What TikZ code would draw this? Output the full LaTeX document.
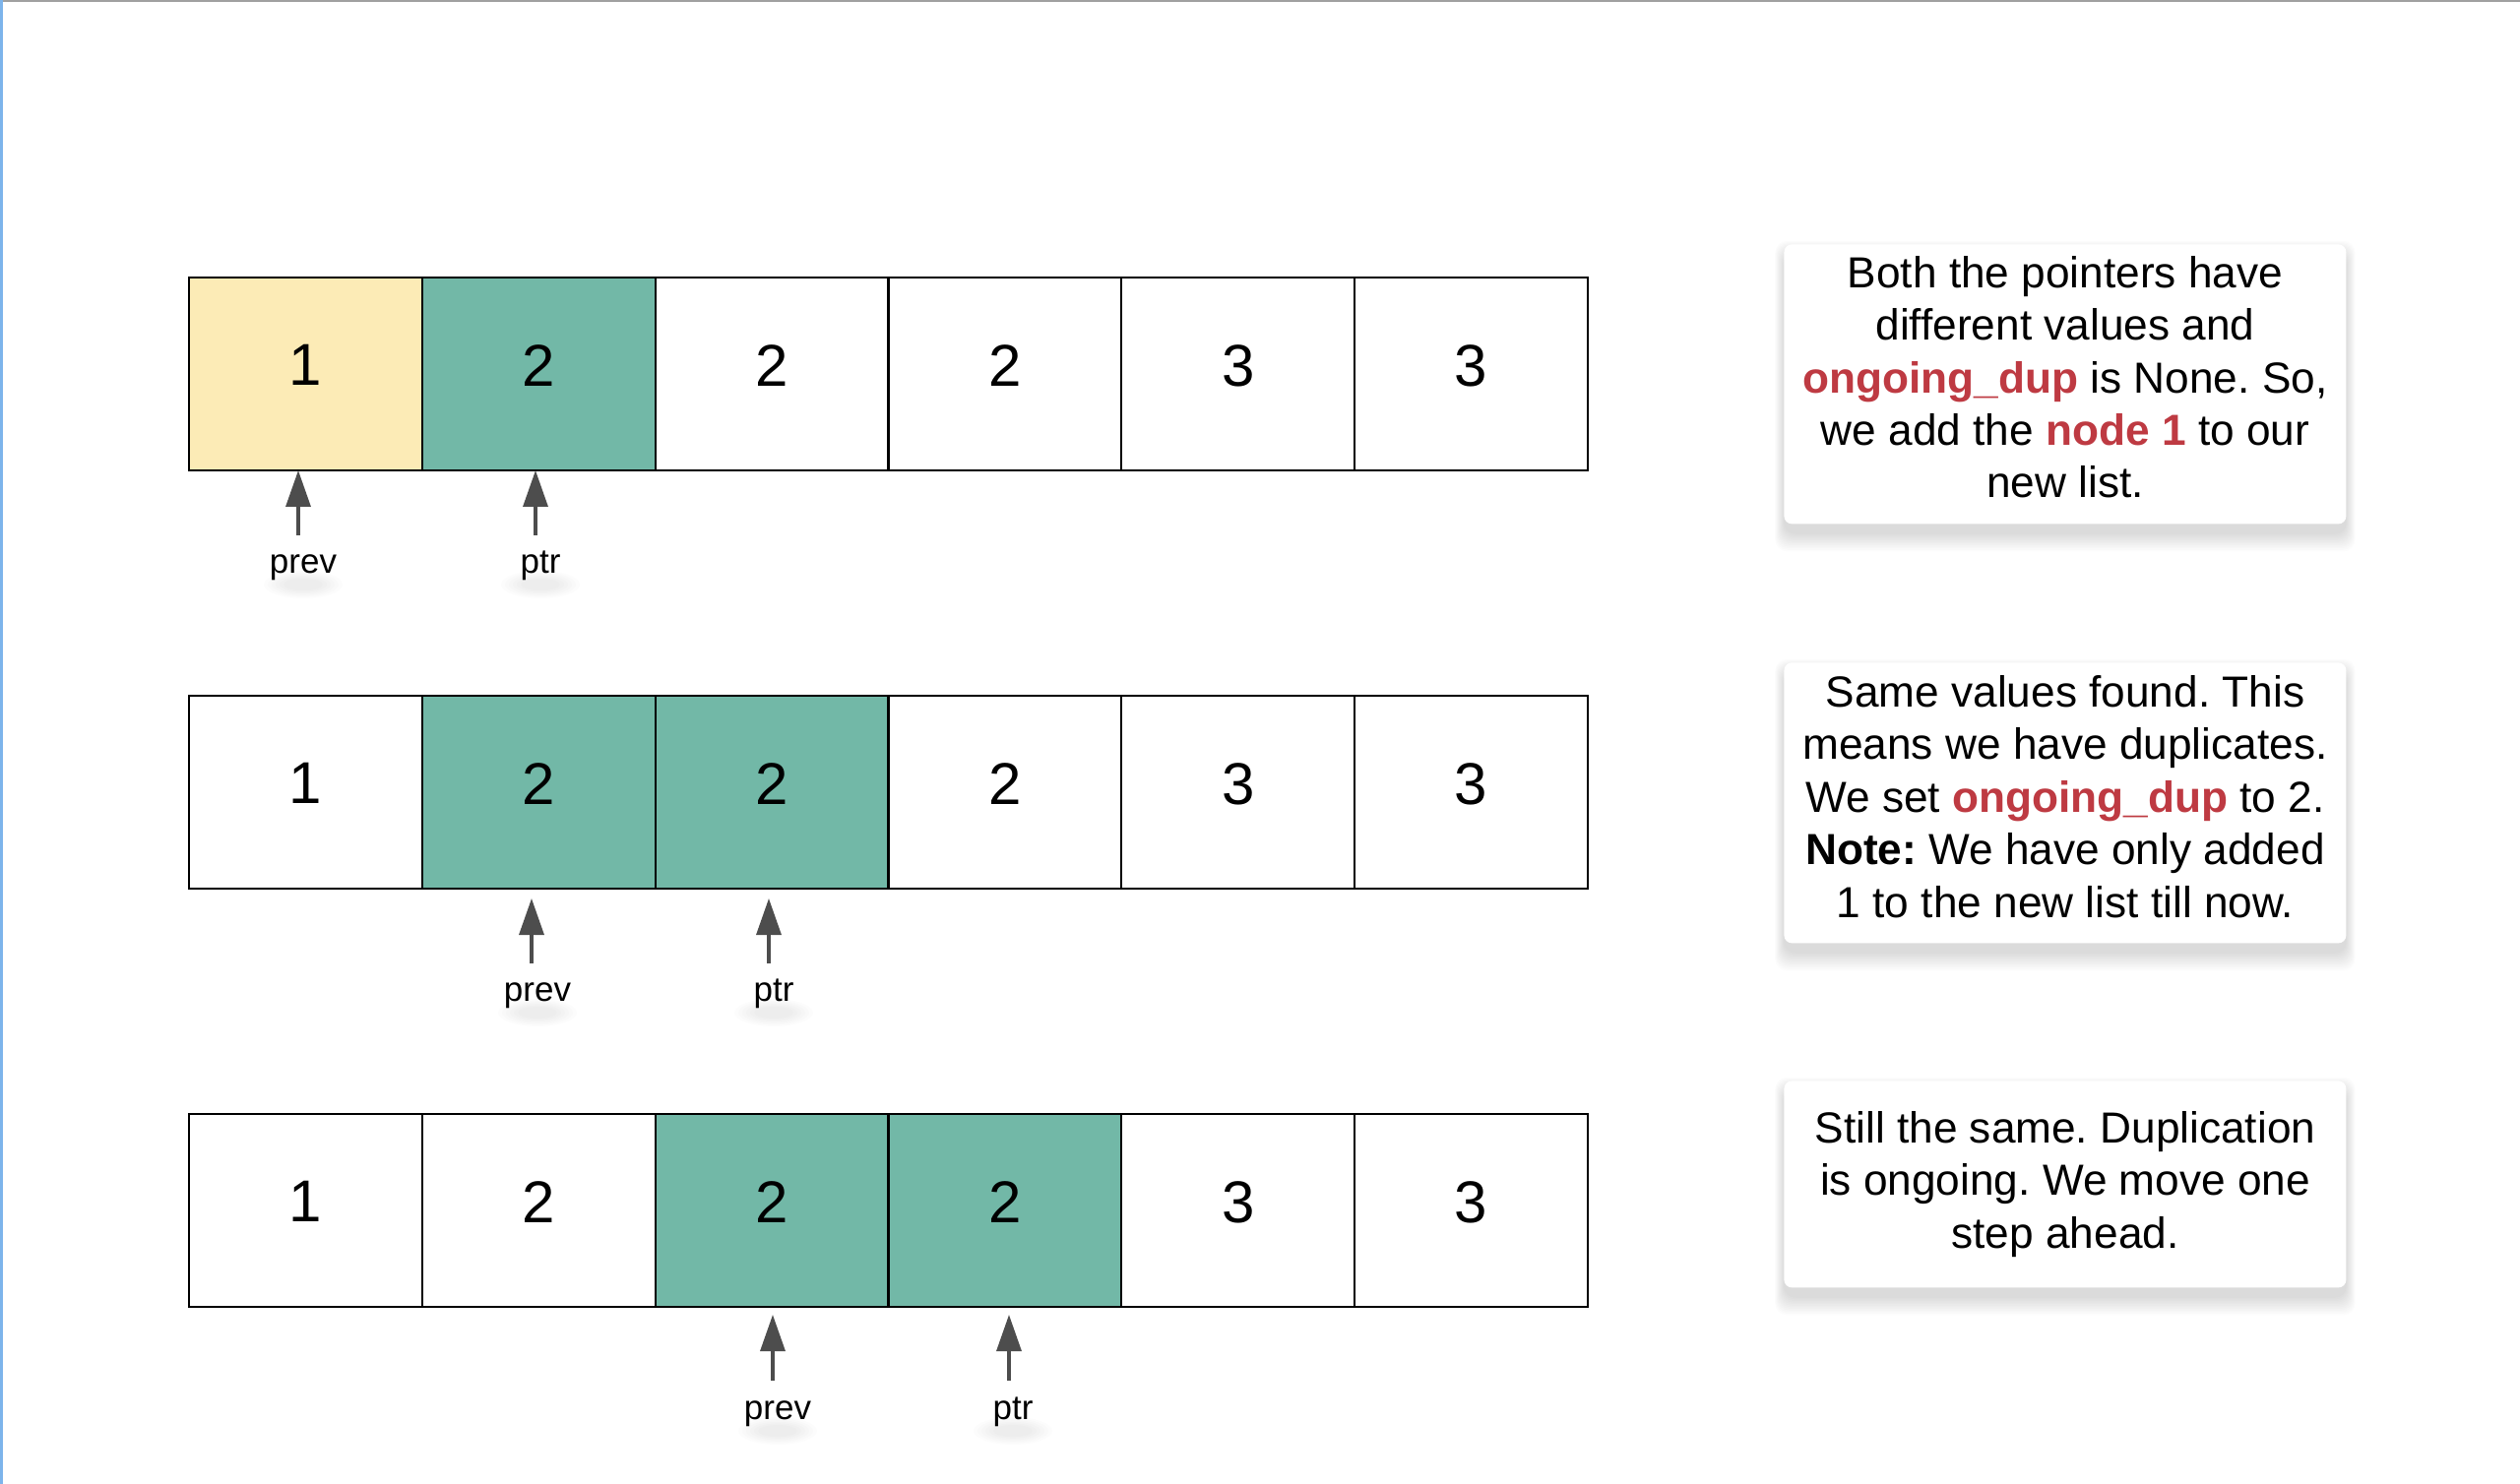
\documentclass[tikz,border=0pt]{standalone}
\usepackage{fontspec}
\setmainfont{Liberation Sans}
\usetikzlibrary{arrows.meta,calc}
\definecolor{cellyellow}{RGB}{252,235,182}
\definecolor{cellgreen}{RGB}{114,184,167}
\definecolor{hlred}{RGB}{190,58,66}
\definecolor{ptrgray}{RGB}{77,77,77}
\definecolor{topgray}{RGB}{160,160,160}
\definecolor{edgeblue}{RGB}{125,180,235}
\pgfdeclarelayer{bg}
\pgfsetlayers{bg,main}
\newcommand{\hlword}[1]{\textcolor{hlred}{\bfseries #1}}
\frenchspacing
\begin{document}
\begin{tikzpicture}[x=0.5pt,y=-0.5pt,
  cell/.style={draw=black, line width=1.1pt, minimum width=118.4pt, minimum height=98pt,
    inner sep=0pt, font=\fontsize{30}{36}\selectfont, text depth=9pt, anchor=north west},
  ptrarrow/.style={draw=ptrgray, line width=1.65pt, -{Triangle[length=18.5pt,width=12.5pt]}},
  lab/.style={font=\fontsize{17.5}{21}\selectfont, anchor=base, inner sep=0pt},
  notebox/.style={fill=white, rounded corners=4pt, minimum width=285.5pt, inner sep=0pt, anchor=north west},
  notetext/.style={font=\fontsize{22.1}{26.75}\selectfont\frenchspacing, align=center, inner sep=0pt, anchor=base}
]
\useasboundingbox (0,0) rectangle (2560,1508);
\fill[topgray] (0,0) rectangle (2560,2.5);
\fill[edgeblue] (0,0) rectangle (2.5,1508);

% rows of cells
\foreach \v/\f [count=\i] in {1/cellyellow,2/cellgreen,2/white,2/white,3/white,3/white}
  \node[cell, fill=\f] (ra\i) at ({191+(\i-1)*236.8},281) {\v};
\foreach \v/\f [count=\i] in {1/white,2/cellgreen,2/cellgreen,2/white,3/white,3/white}
  \node[cell, fill=\f] (rb\i) at ({191+(\i-1)*236.8},706) {\v};
\foreach \v/\f [count=\i] in {1/white,2/white,2/cellgreen,2/cellgreen,3/white,3/white}
  \node[cell, fill=\f] (rc\i) at ({191+(\i-1)*236.8},1131) {\v};

% pointer labels
\node[lab] (la1) at (308,582) {prev};
\node[lab] (la2) at (549,582) {ptr};
\node[lab] (lb1) at (546,1017) {prev};
\node[lab] (lb2) at (786,1017) {ptr};
\node[lab] (lc1) at (790,1442) {prev};
\node[lab] (lc2) at (1029,1442) {ptr};

% pointer arrows
\coordinate (sa1) at (303,544); \coordinate (ea1) at (303,478);
\coordinate (sa2) at (544,544); \coordinate (ea2) at (544,478);
\coordinate (sb1) at (540,979); \coordinate (eb1) at (540,913);
\coordinate (sb2) at (781,979); \coordinate (eb2) at (781,913);
\coordinate (sc1) at (785,1403); \coordinate (ec1) at (785,1336);
\coordinate (sc2) at (1025,1403); \coordinate (ec2) at (1025,1336);
\foreach \a in {a1,a2,b1,b2,c1,c2}
  \draw[ptrarrow] (s\a) -- (e\a);

% note boxes
\node[notebox, minimum height=142pt] (n1) at (1812,248) {};
\node[notebox, minimum height=142.5pt] (n2) at (1812,673) {};
\node[notebox, minimum height=105pt] (n3) at (1812,1098) {};

\node[notetext] (t1) at (2098,506) {Both the pointers have\\different values and\\\hlword{ongoing\_dup} is None. So,\\we add the \hlword{node 1} to our\\new list.};
\node[notetext] (t2) at (2098,932) {Same values found. This\\means we have duplicates.\\We set \hlword{ongoing\_dup} to 2.\\\textbf{Note:} We have only added\\1 to the new list till now.};
\node[notetext] (t3) at (2098,1268) {Still the same. Duplication\\is ongoing. We move one\\step ahead.};

% soft shadows
\begin{pgfonlayer}{bg}
  \foreach \n in {n1,n2,n3}{
    \foreach \k in {0,...,11}{
      \fill[black, opacity=0.013, rounded corners=6pt]
        ($(\n.south west)+(-\k*0.8,10+\k*1.6)$) rectangle ($(\n.north east)+(\k*0.8,10-\k*1.2)$);
    }
  }
  \foreach \l in {la1,la2,lb1,lb2,lc1,lc2}{
    \foreach \k in {0,...,5}{
      \fill[black, opacity=0.011] ($(\l.base)+(0,12)$) ellipse [x radius=10pt+\k*2pt, y radius=3pt+\k*0.8pt];
    }
  }
\end{pgfonlayer}
\end{tikzpicture}
\end{document}
